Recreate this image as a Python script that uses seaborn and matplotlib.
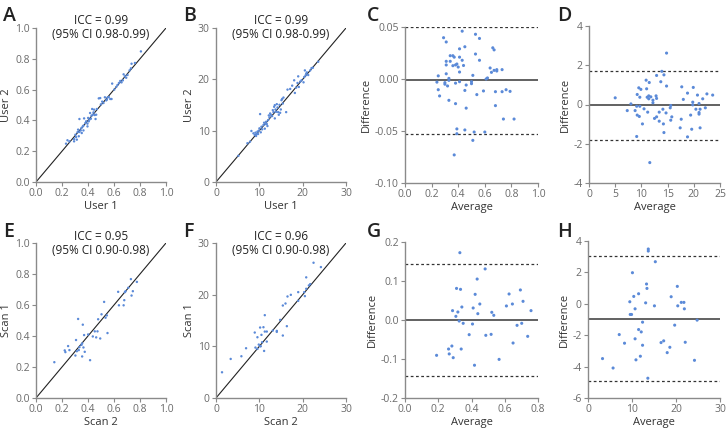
import numpy as np
import pandas as pd
import matplotlib
matplotlib.use("Agg")
import matplotlib.pyplot as plt
import seaborn as sns

# ---- data ----
# A: user 1 vs user 2 (0-1 scale)
a_user1 = [0.231, 0.242, 0.257, 0.293, 0.303, 0.308, 0.319, 0.324, 0.314, 0.329, 0.334, 0.344, 0.350,
           0.334, 0.360, 0.365, 0.370, 0.380, 0.386, 0.396, 0.401, 0.411, 0.422, 0.427, 0.432, 0.442,
           0.447, 0.452, 0.458, 0.463, 0.468, 0.483, 0.494, 0.499, 0.509, 0.519, 0.530, 0.540, 0.550,
           0.560, 0.571, 0.581, 0.586, 0.602, 0.617, 0.627, 0.638, 0.648, 0.658, 0.668, 0.674, 0.684,
           0.694, 0.704, 0.720, 0.730, 0.735, 0.761, 0.807, 0.293, 0.352, 0.365, 0.396, 0.406, 0.437,
           0.416, 0.545]
a_user2 = [0.249, 0.271, 0.264, 0.279, 0.307, 0.292, 0.323, 0.340, 0.275, 0.297, 0.325, 0.335, 0.351,
           0.409, 0.361, 0.366, 0.413, 0.383, 0.394, 0.379, 0.416, 0.405, 0.411, 0.431, 0.474, 0.452,
           0.470, 0.435, 0.409, 0.437, 0.474, 0.543, 0.545, 0.504, 0.522, 0.513, 0.550, 0.530, 0.548,
           0.552, 0.539, 0.539, 0.639, 0.600, 0.617, 0.630, 0.643, 0.656, 0.647, 0.660, 0.699, 0.686,
           0.677, 0.695, 0.725, 0.738, 0.768, 0.773, 0.848, 0.264, 0.318, 0.335, 0.361, 0.394, 0.437,
           0.448, 0.535]

# B: user 1 vs user 2 (0-30 scale)
b_user1 = [5.17, 7.25, 7.86, 8.17, 8.64, 8.94, 9.10, 9.25, 9.41, 9.56, 9.71, 9.87, 10.02, 10.18, 10.33,
           10.49, 10.64, 10.95, 11.10, 11.26, 11.41, 11.57, 11.72, 11.87, 12.03, 12.18, 12.34, 12.49,
           12.65, 12.95, 13.11, 13.26, 13.42, 13.57, 13.57, 13.72, 13.88, 14.03, 14.19, 14.34, 14.49,
           14.65, 14.80, 14.96, 15.11, 15.27, 15.42, 15.57, 16.19, 16.50, 17.12, 17.58, 18.04, 18.20,
           18.50, 18.81, 18.97, 19.12, 19.43, 19.74, 20.20, 20.36, 20.51, 20.67, 20.82, 20.97, 21.28,
           21.74, 22.05, 22.36, 23.59]
b_user2 = [5.10, 7.55, 7.87, 9.94, 9.48, 9.16, 9.61, 8.97, 9.35, 9.81, 9.35, 10.00, 10.45, 13.23, 9.68,
           10.77, 10.26, 11.10, 11.55, 10.39, 11.29, 11.74, 11.29, 10.90, 12.06, 12.97, 12.58, 13.35,
           13.10, 12.84, 14.00, 13.61, 14.65, 14.97, 12.39, 14.13, 13.68, 15.16, 14.52, 13.61, 13.10,
           15.03, 13.48, 14.13, 15.94, 16.19, 15.29, 16.45, 13.61, 18.00, 18.13, 18.77, 19.81, 17.35,
           18.39, 19.29, 20.58, 18.52, 19.55, 19.81, 19.42, 20.45, 21.74, 20.77, 21.10, 21.35, 20.84,
           21.74, 22.19, 22.26, 23.42]

# C: Bland-Altman of A
c_avg = [0.29, 0.43, 0.31, 0.53, 0.56, 0.45, 0.41, 0.53, 0.34, 0.36, 0.37, 0.41, 0.31, 0.31, 0.34,
         0.39, 0.38, 0.43, 0.44, 0.40, 0.36, 0.56, 0.64, 0.67, 0.69, 0.69, 0.73, 0.65, 0.66, 0.67,
         0.41, 0.31, 0.25, 0.51, 0.62, 0.61, 0.33, 0.33, 0.24, 0.30, 0.30, 0.32, 0.38, 0.41, 0.50,
         0.50, 0.46, 0.25, 0.26, 0.45, 0.59, 0.68, 0.73, 0.76, 0.79, 0.54, 0.33, 0.38, 0.46, 0.68,
         0.74, 0.82, 0.39, 0.39, 0.45, 0.52, 0.60, 0.51, 0.37]
c_diff = [0.0397, 0.046, 0.0356, 0.043, 0.039, 0.031, 0.029, 0.024, 0.0224, 0.0224, 0.021, 0.021,
          0.017, 0.0135, 0.017, 0.0144, 0.0135, 0.018, 0.013, 0.0115, 0.0128, 0.018, 0.0106, 0.0083,
          0.009, 0.0077, 0.009, 0.0064, 0.030, 0.028, 0.0067, 0.005, 0.003, 0.0035, 0.001, 0.0,
          0.0006, -0.0013, -0.003, -0.0035, -0.005, -0.0067, -0.004, -0.0026, -0.0026, -0.0045,
          -0.0058, -0.0103, -0.0163, -0.011, -0.0115, -0.0122, -0.0122, -0.0103, -0.0119, -0.015,
          -0.0205, -0.0237, -0.028, -0.0256, -0.0385, -0.0385, -0.048, -0.0526, -0.049, -0.051,
          -0.051, -0.059, -0.073]
c_lines = [-0.0013, 0.0497, -0.0526]  # mean, upper, lower

# D: Bland-Altman of B
d_avg = [5.0, 7.3, 8.0, 8.8, 9.1, 9.2, 9.5, 9.9, 9.7, 9.2, 9.6, 9.1, 9.7, 10.2, 10.5, 10.9, 11.1,
         11.0, 11.4, 11.5, 11.4, 11.8, 11.2, 12.2, 12.2, 11.6, 12.5, 12.9, 12.8, 12.9, 12.9, 13.4,
         13.4, 13.7, 13.9, 14.3, 14.1, 14.2, 14.3, 14.8, 14.7, 14.8, 15.5, 15.6, 15.6, 15.8, 17.4,
         17.6, 17.7, 18.0, 18.8, 18.8, 19.4, 19.6, 19.9, 19.8, 19.8, 20.4, 20.7, 21.0, 21.0, 21.0,
         21.2, 21.2, 21.7, 22.2, 22.5, 23.6]
d_diff = [0.34, -0.31, 0.03, -0.31, -1.63, 0.51, 0.85, 0.77, 0.37, -0.54, -0.61, -0.09, -0.09,
          -0.99, -0.22, 1.24, 0.37, 0.80, 0.29, 1.12, 0.44, 0.39, -0.39, 0.22, 0.09, -2.96, -0.71,
          -0.63, 0.44, 0.31, 1.48, -0.39, -0.85, 1.16, 1.69, 1.51, -0.24, -0.99, -1.43, 0.94, -0.43,
          2.62, -0.17, -0.05, -0.80, -0.63, -1.19, -0.75, 0.90, 0.26, 0.58, -1.65, -0.54, -1.26,
          0.87, 0.12, -0.02, -0.24, 0.48, 0.05, -0.41, -0.49, -0.24, -1.19, 0.29, -0.17, 0.54, 0.48]
d_lines = [0.0, 1.72, -1.79]

# E: scan 2 vs scan 1 (0-1 scale)
e_scan2 = [0.141, 0.221, 0.226, 0.247, 0.257, 0.303, 0.308, 0.314, 0.329, 0.324, 0.334, 0.350, 0.355,
           0.355, 0.360, 0.365, 0.370, 0.375, 0.416, 0.401, 0.437, 0.452, 0.463, 0.473, 0.478, 0.494,
           0.504, 0.524, 0.535, 0.545, 0.550, 0.632, 0.638, 0.674, 0.679, 0.684, 0.689, 0.710, 0.730,
           0.735, 0.745, 0.776]
e_scan1 = [0.231, 0.307, 0.296, 0.335, 0.309, 0.274, 0.374, 0.302, 0.309, 0.510, 0.328, 0.343, 0.352,
           0.268, 0.473, 0.326, 0.406, 0.298, 0.244, 0.410, 0.397, 0.430, 0.391, 0.430, 0.508, 0.384,
           0.540, 0.620, 0.518, 0.533, 0.419, 0.685, 0.598, 0.598, 0.631, 0.683, 0.689, 0.711, 0.767,
           0.661, 0.689, 0.749]

# F: scan 2 vs scan 1 (0-30 scale)
f_scan2 = [1.39, 3.39, 5.86, 6.94, 8.94, 9.10, 9.56, 9.56, 9.87, 10.18, 10.18, 10.33, 10.49, 10.64,
           10.95, 11.10, 11.26, 11.26, 11.72, 11.72, 13.11, 14.03, 14.03, 14.80, 15.42, 15.42, 16.04,
           16.50, 16.35, 17.27, 18.97, 18.97, 20.51, 20.36, 20.82, 20.82, 21.43, 21.74, 22.51, 24.21]
f_scan1 = [4.98, 7.56, 8.08, 9.63, 12.67, 9.76, 9.50, 11.76, 10.34, 13.64, 10.02, 10.02, 12.22, 10.79,
           13.70, 9.11, 16.03, 12.86, 12.86, 10.92, 13.06, 12.99, 12.80, 15.12, 17.90, 12.09, 18.29,
           19.65, 13.90, 19.97, 20.49, 18.81, 19.72, 20.49, 23.35, 21.14, 21.79, 22.04, 26.18, 25.34]

# G: Bland-Altman of E
g_avg = [0.19, 0.262, 0.266, 0.282, 0.29, 0.286, 0.306, 0.31, 0.318, 0.326, 0.33, 0.334, 0.338, 0.342,
         0.35, 0.386, 0.406, 0.41, 0.422, 0.418, 0.434, 0.438, 0.45, 0.482, 0.486, 0.518, 0.522,
         0.534, 0.566, 0.61, 0.626, 0.646, 0.65, 0.674, 0.694, 0.702, 0.71, 0.738, 0.758]
g_diff = [-0.0906, -0.0744, -0.087, -0.0667, -0.0966, 0.024, 0.0094, 0.081, 0.0205, -0.0026, 0.1726,
          0.0786, -0.0744, 0.0333, -0.0085, -0.0376, -0.0103, 0.0308, 0.0658, -0.116, 0.105, 0.0162,
          0.041, 0.131, -0.0393, -0.0368, 0.0197, 0.012, -0.101, 0.036, 0.0667, 0.041, -0.059,
          -0.0137, 0.077, -0.0085, 0.0479, -0.0419, 0.024]
g_lines = [0.0, 0.1436, -0.1436]

# H: Bland-Altman of F
h_avg = [3.3, 5.7, 7.1, 8.3, 9.5, 9.6, 9.9, 10.1, 10.4, 10.7, 10.7, 10.9, 11.5, 11.5, 12.1, 11.9,
         12.4, 12.4, 13.1, 13.3, 13.4, 13.7, 13.7, 13.6, 15.1, 15.3, 16.6, 17.2, 18.0, 18.6, 18.9,
         19.7, 20.3, 20.4, 21.2, 21.8, 21.9, 22.1, 24.2, 24.8]
h_diff = [-3.49, -4.09, -1.96, -2.51, 0.13, -0.68, -0.68, 1.98, 0.47, -0.32, -2.23, -3.57, 0.64,
          -1.64, -1.79, -3.34, -1.17, -2.64, 0.06, 1.26, 0.98, 3.49, 3.36, -4.74, -0.13, 2.68,
          -2.47, -2.36, -3.11, -2.77, 0.45, -1.36, 1.11, -0.13, 0.09, 0.09, -0.32, -2.45, -3.60,
          -1.04]
h_lines = [-0.96, 3.02, -4.91]

# ---- style ----
sns.set_theme(style="ticks")
plt.rcParams["font.family"] = ["Open Sans", "DejaVu Sans"]
plt.rcParams["axes.unicode_minus"] = False

DOT = "#5b8ad8"
SPINE = "#8a8a8a"
TICKC = "#6a6a6a"
LABC = "#333333"

fig = plt.figure(figsize=(7.26, 4.30), dpi=100)
W, H = 726.0, 430.0


def add_ax(x0, y0, x1, y1):
    return fig.add_axes([x0 / W, 1 - y1 / H, (x1 - x0) / W, (y1 - y0) / H])


def style(ax, xlabel, ylabel):
    for s in ["top", "right"]:
        ax.spines[s].set_visible(False)
    for s in ["left", "bottom"]:
        ax.spines[s].set_color(SPINE)
        ax.spines[s].set_linewidth(1.0)
    ax.tick_params(colors=SPINE, labelcolor=TICKC, labelsize=7.5, length=3, width=0.8, pad=1.5)
    ax.set_xlabel(xlabel, fontsize=8, color=LABC, labelpad=1)
    ax.set_ylabel(ylabel, fontsize=8, color=LABC, labelpad=2)


def agreement(ax, x, y, lim, ticks, fmt, xlabel, ylabel, icc):
    df = pd.DataFrame({"x": x, "y": y})
    sns.scatterplot(data=df, x="x", y="y", ax=ax, color=DOT, s=3, edgecolor="none", marker="o", zorder=3)
    ax.plot(lim, lim, color="#222222", lw=0.8, zorder=2)
    ax.set_xlim(lim)
    ax.set_ylim(lim)
    ax.set_xticks(ticks)
    ax.set_yticks(ticks)
    ax.set_xticklabels([fmt.format(t) for t in ticks])
    ax.set_yticklabels([fmt.format(t) for t in ticks])
    style(ax, xlabel, ylabel)
    ax.text(0.5, 1.0, icc, transform=ax.transAxes, ha="center", va="center",
            fontsize=8.5, color="#222222", linespacing=1.1)


def bland_altman(ax, avg, diff, lines, xlim, xticks, xfmt, ylim, yticks, yfmt):
    df = pd.DataFrame({"avg": avg, "diff": diff})
    sns.scatterplot(data=df, x="avg", y="diff", ax=ax, color=DOT, s=5, edgecolor="none", marker="o", zorder=3)
    mean, upper, lower = lines
    ax.axhline(mean, color="#555555", lw=1.3, zorder=2)
    ax.axhline(upper, color="#333333", lw=0.9, ls=(0, (2.2, 2)), zorder=2)
    ax.axhline(lower, color="#333333", lw=0.9, ls=(0, (2.2, 2)), zorder=2)
    ax.set_xlim(xlim)
    ax.set_ylim(ylim)
    ax.set_xticks(xticks)
    ax.set_yticks(yticks)
    ax.set_xticklabels([xfmt.format(t) for t in xticks])
    ax.set_yticklabels([yfmt.format(t) for t in yticks])
    style(ax, "Average", "Difference")


unit = [0, 0.2, 0.4, 0.6, 0.8, 1.0]
big = [0, 10, 20, 30]

axA = add_ax(36, 28, 166, 182)
agreement(axA, a_user1, a_user2, (0, 1), unit, "{:.1f}", "User 1", "User 2",
          "ICC = 0.99\n(95% CI 0.98-0.99)")
axB = add_ax(216, 28, 346, 182)
agreement(axB, b_user1, b_user2, (0, 30), big, "{:d}", "User 1", "User 2",
          "ICC = 0.99\n(95% CI 0.98-0.99)")
axC = add_ax(405, 27, 538, 183)
bland_altman(axC, c_avg, c_diff, c_lines, (0, 1), unit, "{:.1f}",
             (-0.10, 0.05), [-0.10, -0.05, 0.0, 0.05], "{:.2f}")
axD = add_ax(589, 26, 720, 183)
bland_altman(axD, d_avg, d_diff, d_lines, (0, 25), [0, 5, 10, 15, 20, 25], "{:d}",
             (-4, 4), [-4, -2, 0, 2, 4], "{:d}")

axE = add_ax(36, 243, 166, 398)
agreement(axE, e_scan2, e_scan1, (0, 1), unit, "{:.1f}", "Scan 2", "Scan 1",
          "ICC = 0.95\n(95% CI 0.90-0.98)")
axF = add_ax(216, 243, 346, 398)
agreement(axF, f_scan2, f_scan1, (0, 30), big, "{:d}", "Scan 2", "Scan 1",
          "ICC = 0.96\n(95% CI 0.90-0.98)")
axG = add_ax(405, 242, 538, 398)
bland_altman(axG, g_avg, g_diff, g_lines, (0, 0.8), [0, 0.2, 0.4, 0.6, 0.8], "{:.1f}",
             (-0.2, 0.2), [-0.2, -0.1, 0.0, 0.1, 0.2], "{:.1f}")
axH = add_ax(588, 241, 720, 398)
bland_altman(axH, h_avg, h_diff, h_lines, (0, 30), big, "{:d}",
             (-6, 4), [-6, -4, -2, 0, 2, 4], "{:d}")

letters = [("A", 3, 6), ("B", 183, 6), ("C", 367, 6), ("D", 557, 6),
           ("E", 3, 222), ("F", 183, 222), ("G", 367, 222), ("H", 557, 222)]
for lab, px, py in letters:
    fig.text(px / W, 1 - py / H, lab, fontsize=14, fontweight="semibold", color="#222222",
             ha="left", va="top")

fig.savefig("out.png", dpi=100)
